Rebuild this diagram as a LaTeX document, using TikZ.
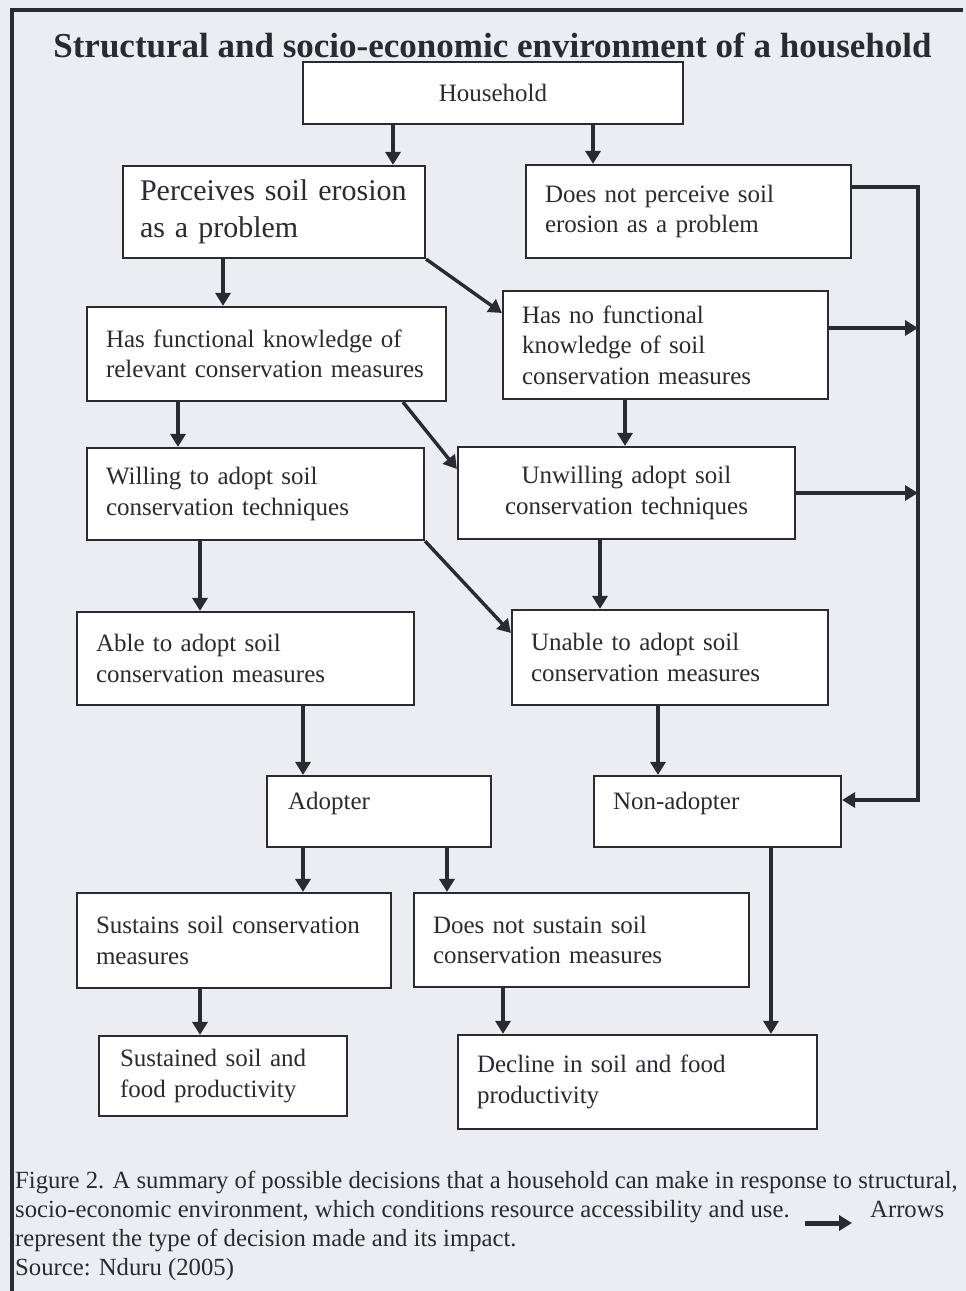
\documentclass[tikz,border=0pt]{standalone}
\usepackage{fontspec}
\setmainfont{Liberation Serif}
\usepackage{xcolor}
\usepackage{tikz}
\usetikzlibrary{arrows.meta,calc}
\definecolor{paper}{RGB}{235,237,242}
\definecolor{ink}{RGB}{42,42,50}
\tikzset{
    box/.style={draw=ink,line width=2.2pt,fill=white,text=ink,align=left,
        inner xsep=19pt,inner ysep=0pt,font=\fontsize{25}{30.5}\selectfont},
    boxc/.style={box,align=center},
    arr/.style={draw=ink,line width=3.4pt,-{Triangle[length=13pt,width=15pt]}},
    frame/.style={draw=ink,line width=4pt},
    titletext/.style={text=ink,inner sep=0pt,anchor=base,
        font=\bfseries\fontsize{35}{40}\selectfont},
    captext/.style={text=ink,inner sep=0pt,anchor=base west,
        font=\fontsize{24.7}{30}\selectfont}
}

\begin{document}
\begin{tikzpicture}[x=1pt,y=-1pt]
  \useasboundingbox (0,0) rectangle (966,1291);
  \fill[paper] (0,0) rectangle (966,1291);
  \draw[frame] (963,10) -- (12,10) -- (12,1291);
  % title
  \node[titletext] (T) at (492.5,57)
    {Structural and socio-economic environment of a household};
  % decision boxes, top to bottom
  \node[boxc,text width=342pt,minimum height=62pt] (HH) at (493,93) {Household};
  \node[box,inner xsep=17pt,text width=268pt,minimum height=92pt,
    font=\fontsize{30}{37}\selectfont] (P1) at (274,212)
    {Perceives soil erosion\\as a problem};
  \node[box,text width=287pt,minimum height=93pt] (P2) at (688.5,211.5)
    {Does not perceive soil\\erosion as a problem};
  \node[box,text width=321pt,minimum height=94pt] (K1) at (266.5,354)
    {Has functional knowledge of\\relevant conservation measures};
  \node[box,text width=287pt,minimum height=108pt] (K2) at (665.5,345)
    {Has no functional\\knowledge of soil\\conservation measures};
  \node[box,text width=299pt,minimum height=92pt] (W1) at (255.5,494)
    {Willing to adopt soil\\conservation techniques};
  \node[boxc,text width=299pt,minimum height=92pt] (W2) at (626.5,493)
    {Unwilling adopt soil\\conservation techniques};
  \node[box,text width=299pt,minimum height=93pt] (A1) at (245.5,658.5)
    {Able to adopt soil\\conservation measures};
  \node[box,text width=278pt,minimum height=95pt] (A2) at (670,657.5)
    {Unable to adopt soil\\conservation measures};
  \node[box,inner xsep=21pt,text width=182pt,minimum height=71pt,text depth=22pt]
    (AD) at (379,811.5) {Adopter};
  \node[box,text width=209pt,minimum height=71pt,text depth=22pt]
    (NA) at (717.5,811.5) {Non-adopter};
  \node[box,text width=276pt,minimum height=95pt] (S1) at (234,940.5)
    {Sustains soil conservation\\measures};
  \node[box,text width=297pt,minimum height=94pt] (S2) at (581.5,940)
    {Does not sustain soil\\conservation measures};
  \node[box,inner xsep=21pt,text width=206pt,minimum height=80pt] (F1) at (223,1076)
    {Sustained soil and\\food productivity};
  \node[box,text width=321pt,minimum height=94pt] (F2) at (637.5,1082)
    {Decline in soil and food\\productivity};
  % right-hand collector line
  \coordinate (R1) at (918,187);
  \coordinate (R2) at (918,328);
  \coordinate (R3) at (918,493);
  \coordinate (R4) at (918,800);
  % arrows
  \draw[arr] (393,0 |- HH.south) -- (393,0 |- P1.north);
  \draw[arr] (593,0 |- HH.south) -- (593,0 |- P2.north);
  \draw[arr] (223,0 |- P1.south) -- (223,0 |- K1.north);
  \draw[arr] (P1.south east) -- (K2.west |- 0,313);
  \draw[arr] (178,0 |- K1.south) -- (178,0 |- W1.north);
  \draw[arr] (403,0 |- K1.south) -- (W2.west |- 0,469);
  \draw[arr] (625,0 |- K2.south) -- (625,0 |- W2.north);
  \draw[arr] (200,0 |- W1.south) -- (200,0 |- A1.north);
  \draw[arr] (W1.south east) -- (A2.west |- 0,633);
  \draw[arr] (600,0 |- W2.south) -- (600,0 |- A2.north);
  \draw[arr] (303,0 |- A1.south) -- (303,0 |- AD.north);
  \draw[arr] (658,0 |- A2.south) -- (658,0 |- NA.north);
  \draw[arr] (303,0 |- AD.south) -- (303,0 |- S1.north);
  \draw[arr] (447,0 |- AD.south) -- (447,0 |- S2.north);
  \draw[arr] (771,0 |- NA.south) -- (771,0 |- F2.north);
  \draw[arr] (200,0 |- S1.south) -- (200,0 |- F1.north);
  \draw[arr] (503,0 |- S2.south) -- (503,0 |- F2.north);
  \draw[arr] (P2.east |- R1) -- (R1) -- (R4) -- (NA.east |- R4);
  \draw[arr] (K2.east |- R2) -- (R2);
  \draw[arr] (W2.east |- R3) -- (R3);
  % caption
  \node[captext] (C1) at (15,1188)
    {Figure 2. A summary of possible decisions that a household can make in response to structural,};
  \node[captext] (C2) at (15,1217)
    {socio-economic environment, which conditions resource accessibility and use.};
  \node[captext] (C3) at (870,1217) {Arrows};
  \node[captext] (C4) at (15,1246)
    {represent the type of decision made and its impact.};
  \node[captext] (C5) at (15,1275) {Source: Nduru (2005)};
  \coordinate (L1) at (805,1223);
  \coordinate (L2) at (852,1223);
  \draw[arr,line width=5pt] (L1) -- (L2);
\end{tikzpicture}
\end{document}
